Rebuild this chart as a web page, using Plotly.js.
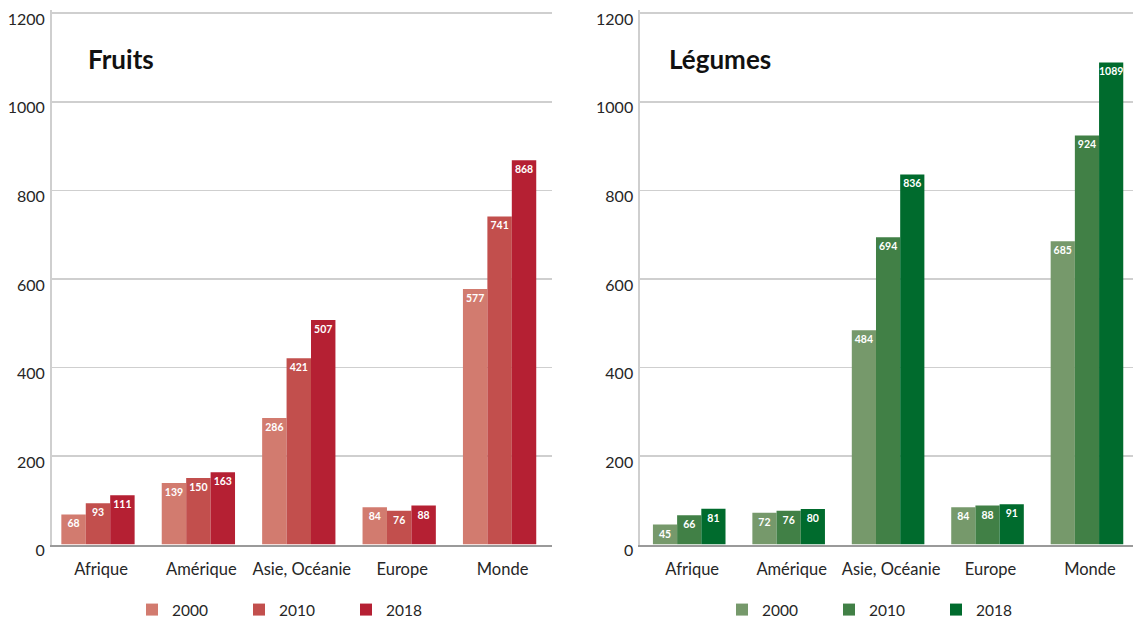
<!DOCTYPE html>
<html>
<head>
<meta charset="utf-8">
<script src="https://cdn.plot.ly/plotly-3.0.1.min.js"></script>
<style>
  html, body { margin: 0; padding: 0; background: #ffffff; }
  #chart { width: 1133px; height: 621px; }
</style>
</head>
<body>
<div id="chart"></div>
<script>
// Regions and years shown in both panels
const categories = ['Afrique', 'Amérique', 'Asie, Océanie', 'Europe', 'Monde'];
const years = ['2000', '2010', '2018'];

// Fruits
const fruits2000 = [68, 139, 286, 84, 577];
const fruits2010 = [93, 150, 421, 76, 741];
const fruits2018 = [111, 163, 507, 88, 868];

// Légumes
const legumes2000 = [45, 72, 484, 84, 685];
const legumes2010 = [66, 76, 694, 88, 924];
const legumes2018 = [81, 80, 836, 91, 1089];

const yTicks = [0, 200, 400, 600, 800, 1000, 1200];

const fruitColors = ['#d27b6f', '#c24f4d', '#b52033'];
const legumeColors = ['#76996b', '#418046', '#006b2d'];

const W = 1133, H = 621;
const FONT = 'Lato, "Open Sans", sans-serif';

function barTrace(name, values, color, xa, ya, legendId) {
  return {
    type: 'bar',
    name: name,
    x: categories,
    y: values,
    xaxis: xa,
    yaxis: ya,
    legend: legendId,
    marker: { color: color, line: { width: 0 } },
    text: values.map(v => String(v)),
    textposition: 'inside',
    insidetextanchor: 'end',
    textangle: 0,
    constraintext: 'none',
    textfont: { family: FONT, size: 10.5, color: '#ffffff', weight: 700 },
    hoverinfo: 'skip'
  };
}

const data = [
  barTrace(years[0], fruits2000, fruitColors[0], 'x', 'y', 'legend'),
  barTrace(years[1], fruits2010, fruitColors[1], 'x', 'y', 'legend'),
  barTrace(years[2], fruits2018, fruitColors[2], 'x', 'y', 'legend'),
  barTrace(years[0], legumes2000, legumeColors[0], 'x2', 'y2', 'legend2'),
  barTrace(years[1], legumes2010, legumeColors[1], 'x2', 'y2', 'legend2'),
  barTrace(years[2], legumes2018, legumeColors[2], 'x2', 'y2', 'legend2')
];

const px = v => v / W;
const py = v => (H - v) / H;

// pixels per unit on the value axis; the range runs a little past the top
// tick so its grid line is kept
const pxPerUnit = (544.5 - 13.3) / 1200;
const yTop = 1208;
const yDomain = [py(544.5), py(13.3 - (yTop - 1200) * pxPerUnit)];

function xAxis(domain, range) {
  return {
    domain: domain,
    range: range,
    type: 'category',
    showgrid: false,
    showline: true,
    linecolor: '#9a9a9a',
    linewidth: 2.5,
    ticks: '',
    ticklabelshift: 3,
    ticklabelstandoff: 8,
    tickfont: { family: FONT, size: 16.5, color: '#262626' },
    fixedrange: true,
    zeroline: false
  };
}

function yAxis(domain, anchor) {
  return {
    domain: domain,
    anchor: anchor,
    range: [0, yTop],
    tickvals: yTicks,
    ticktext: yTicks.map(String),
    showgrid: true,
    gridcolor: '#cfcfcf',
    gridwidth: 1.6,
    showline: true,
    linecolor: '#cfcfcf',
    linewidth: 1.6,
    zeroline: false,
    ticks: '',
    ticklabelshift: 6,
    ticklabelstandoff: 2,
    tickfont: { family: FONT, size: 16, color: '#262626' },
    fixedrange: true
  };
}

function legendAt(xLeft) {
  return {
    orientation: 'h',
    x: xLeft,
    xanchor: 'left',
    y: py(593),
    yanchor: 'top',
    entrywidth: 62,
    font: { family: FONT, size: 15.5, color: '#262626' },
    bgcolor: 'rgba(0,0,0,0)',
    borderwidth: 0,
    traceorder: 'normal'
  };
}

const layout = {
  width: W,
  height: H,
  margin: { l: 0, r: 0, t: 0, b: 0, pad: 0, autoexpand: false },
  paper_bgcolor: '#ffffff',
  plot_bgcolor: '#ffffff',
  barmode: 'group',
  bargap: 0.27,
  bargroupgap: 0,
  xaxis: xAxis([px(51.7), px(551.7)], [-0.461, 4.519]),
  yaxis: yAxis(yDomain, 'x'),
  xaxis2: xAxis([px(640), px(1133)], [-0.495, 4.463]),
  yaxis2: yAxis(yDomain, 'x2'),
  showlegend: true,
  legend: legendAt(px(132)),
  legend2: legendAt(px(722)),
  annotations: [
    {
      text: 'Fruits', xref: 'paper', yref: 'paper',
      x: px(86), y: py(59), xanchor: 'left', yanchor: 'middle',
      showarrow: false,
      font: { family: FONT, size: 26, color: '#111111', weight: 700 }
    },
    {
      text: 'Légumes', xref: 'paper', yref: 'paper',
      x: px(667), y: py(59), xanchor: 'left', yanchor: 'middle',
      showarrow: false,
      font: { family: FONT, size: 26, color: '#111111', weight: 700 }
    }
  ]
};

Plotly.newPlot('chart', data, layout, { displayModeBar: false, staticPlot: true });
</script>
</body>
</html>
